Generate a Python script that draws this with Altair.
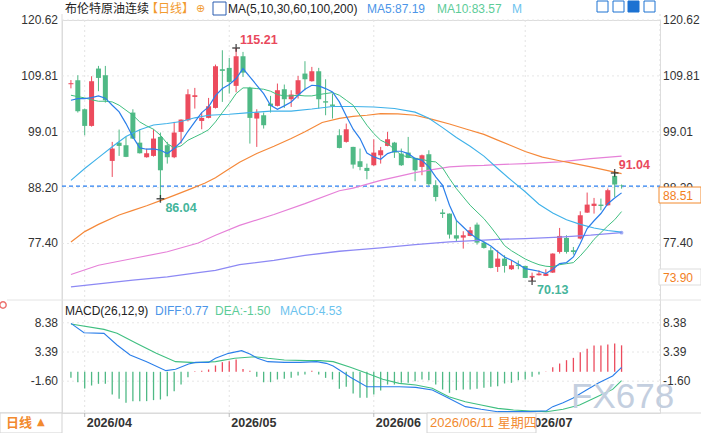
import altair as alt
import pandas as pd

# ---------------- data ----------------
opens = [108.2, 108.97, 103.36, 100.14, 111.23, 109.94, 93.37, 96.9, 96.4, 102.72,
         96.9, 94.08, 94.34, 98.01, 96.4, 94.08, 98.98, 101.23, 105.74, 101.1,
         101.69, 103.62, 111.1, 111.36, 107.88, 113.61, 107.49, 101.56, 102.2, 104.46,
         104.01, 107.23, 105.3, 106.2, 110.26, 108.78, 110.71, 104.91, 104.27, 98.33,
         97.05, 96.08, 93.31, 92.02, 92.53, 94.46, 96.27, 96.91, 94.79, 94.98,
         93.95, 92.21, 94.66, 88.66, 83.4, 83.18, 78.99, 78.54, 78.86, 81.05,
         77.57, 76.09, 72.87, 74.48, 72.42, 73.32, 73.06, 70.8, 71.26, 71.13,
         71.77, 75.77, 78.48, 76.09, 78.35, 83.37, 84.66, 84.92, 84.79, 90.47, 88.6]
highs = [109.0, 109.94, 103.5, 109.75, 111.74, 111.74, 97.05, 99.43, 98.0, 103.36,
         99.43, 95.76, 99.49, 98.85, 97.05, 100.91, 101.4, 107.23, 107.49, 102.72,
         105.55, 112.0, 114.77, 113.29, 115.21, 114.45, 107.7, 103.36, 102.72, 105.94,
         108.33, 108.14, 107.04, 109.81, 112.65, 111.55, 111.36, 109.16, 106.39, 99.49,
         100.59, 96.1, 95.76, 92.85, 97.56, 96.08, 98.98, 97.05, 95.76, 98.01,
         94.0, 94.59, 95.43, 89.63, 84.02, 83.2, 81.91, 79.77, 80.6, 81.44,
         77.83, 76.73, 76.09, 75.12, 74.1, 74.1, 73.1, 71.77, 72.22, 72.42,
         75.5, 80.41, 78.99, 76.73, 83.63, 87.25, 86.21, 86.08, 88.02, 91.04, 88.8]
lows = [107.4, 102.72, 98.33, 100.0, 106.85, 104.65, 90.27, 94.34, 94.1, 97.6,
        94.8, 94.0, 94.2, 86.04, 92.85, 93.9, 96.72, 101.0, 103.49, 99.49,
        101.6, 103.5, 104.78, 106.39, 106.65, 109.62, 96.72, 96.08, 99.62, 102.72,
        103.9, 103.62, 103.81, 105.43, 107.04, 108.7, 103.49, 102.2, 101.56, 95.8,
        96.9, 91.89, 91.56, 89.82, 92.4, 92.85, 96.2, 93.95, 92.4, 93.9,
        89.44, 90.6, 88.53, 85.56, 82.34, 78.35, 77.7, 76.41, 78.8, 77.18,
        76.41, 72.6, 71.9, 71.77, 72.3, 72.42, 70.7, 70.13, 71.2, 71.1,
        71.7, 75.45, 75.45, 75.25, 78.2, 83.3, 83.18, 83.82, 84.7, 86.4, 88.0]
closes = [108.4, 102.98, 100.14, 108.78, 109.42, 105.1, 95.76, 96.27, 94.15, 97.69,
          94.85, 94.85, 97.69, 91.56, 94.08, 98.85, 101.36, 106.26, 106.07, 101.69,
          103.94, 111.68, 110.78, 108.65, 113.61, 110.45, 101.69, 102.72, 100.27, 104.01,
          107.04, 105.3, 106.2, 108.97, 109.16, 110.71, 105.3, 104.65, 104.01, 95.88,
          99.49, 92.66, 92.21, 91.43, 94.98, 95.43, 97.56, 94.98, 92.53, 93.95,
          91.56, 94.46, 88.86, 86.4, 83.1, 79.12, 78.35, 78.99, 79.96, 77.57,
          76.54, 72.67, 74.48, 73.06, 73.19, 73.06, 70.74, 71.13, 71.58, 71.58,
          75.45, 78.86, 75.77, 75.77, 82.86, 84.92, 85.1, 84.66, 87.7, 88.8, 88.51]

ma5 = [105.1, 105.4, 105.4, 105.6, 105.94, 105.5, 104.14, 102.85, 100.59, 98.01,
       95.88, 95.63, 95.7, 95.43, 94.79, 95.76, 97.05, 99.1, 100.91, 102.72,
       103.81, 106.0, 107.36, 108.14, 109.3, 111.23, 109.62, 108.0, 106.39, 104.14,
       103.36, 104.01, 104.78, 106.07, 107.23, 108.0, 107.88, 107.36, 106.72, 104.78,
       102.07, 99.5, 97.69, 94.9, 94.14, 93.69, 94.79, 95.24, 95.24, 94.79,
       93.82, 93.5, 92.21, 90.27, 88.66, 84.79, 81.88, 80.6, 79.32, 78.35,
       77.7, 76.93, 75.8, 74.8, 74.16, 73.4, 72.55, 72.3, 72.03, 71.58,
       72.42, 73.51, 73.71, 74.8, 77.38, 80.3, 81.8, 83.2, 85.1, 86.21, 87.19]
ma10 = [106.07, 105.8, 105.55, 105.2, 104.91, 104.91, 104.78, 104.14, 103.17, 102.2,
        100.91, 100.14, 99.49, 98.33, 96.72, 95.88, 96.27, 97.37, 98.01, 98.66,
        99.4, 100.91, 102.72, 104.46, 106.39, 107.49, 107.49, 107.36, 107.23, 106.85,
        106.2, 105.94, 105.94, 106.07, 105.94, 105.94, 106.2, 106.39, 106.59, 106.07,
        105.1, 104.14, 102.2, 100.27, 98.66, 97.37, 96.72, 95.63, 94.46, 94.14,
        93.82, 93.69, 93.31, 93.18, 92.02, 89.95, 88.02, 86.4, 84.79, 83.5,
        82.21, 80.6, 78.86, 77.0, 76.0, 75.2, 74.4, 73.8, 73.3, 73.0,
        72.9, 73.3, 73.5, 73.7, 75.0, 76.5, 78.2, 79.5, 80.8, 82.0, 83.57]
ma30_i = [0, 2, 4, 6, 8, 10, 12, 14, 16, 18, 20, 23, 26, 29, 32, 35, 38, 41, 44, 47,
          50, 52, 54, 56, 58, 60, 62, 64, 66, 68, 70, 72, 74, 76, 78, 80]
ma30_v = [89.6, 91.9, 94.0, 96.1, 98.1, 99.4, 100.3, 100.6, 101.0, 101.7, 102.2, 102.4,
          102.7, 103.0, 103.0, 103.4, 103.9, 103.9, 103.8, 103.5, 102.8, 101.6, 99.8,
          97.9, 96.2, 94.3, 91.9, 89.6, 87.4, 85.0, 83.3, 82.0, 81.1, 80.4, 79.9, 79.6]
ma60_i = [0, 2, 4, 7, 9, 11, 13, 15, 17.5, 19.5, 21, 22.5, 24.5, 27, 29.5, 32, 34, 36.5,
          39, 41, 43, 45, 47.5, 50, 52.5, 55, 57.5, 60, 62, 64, 66, 68.5, 71, 73, 75.5, 78, 80]
ma60_v = [77.7, 79.7, 81.1, 82.9, 83.8, 84.7, 85.7, 86.7, 88.0, 89.1, 90.1, 91.4, 93.1,
          94.8, 96.2, 97.7, 99.0, 100.8, 101.6, 102.0, 102.2, 102.5, 102.45, 102.2, 101.4,
          100.5, 99.5, 98.5, 97.4, 96.3, 95.2, 94.1, 93.4, 92.9, 92.2, 91.5, 90.9]
ma100_i = [0, 4, 9, 14, 18.5, 21, 24.5, 29.5, 34, 39, 41, 45, 50, 52.5, 55, 57.5, 60,
           62, 66, 71, 75.5, 80]
ma100_v = [71.4, 73.2, 74.5, 75.8, 77.5, 79.0, 80.9, 83.0, 85.1, 87.6, 88.1, 89.6, 91.1,
           91.7, 92.2, 92.4, 92.5, 92.65, 92.85, 93.2, 93.8, 94.3]
ma200_i = [0, 4, 9, 14, 18.5, 21, 24.5, 29.5, 34, 39, 41, 45, 50, 55, 60, 62, 66, 71, 75.5, 80]
ma200_v = [69.0, 69.6, 70.3, 70.95, 71.75, 72.2, 73.3, 74.15, 75.1, 75.9, 76.1, 76.55,
           77.2, 77.7, 78.05, 78.2, 78.35, 78.65, 79.0, 79.5]

macd_hist = [-1.03, -1.77, -2.85, -2.34, -2.05, -2.05, -3.87, -4.62, -5.3, -5.01,
             -5.01, -5.01, -4.84, -4.73, -4.16, -3.3, -2.17, -0.91, 0.1, 0.2,
             0.4, 1.08, 1.65, 1.82, 2.1, 0.5, 0.2, -0.85, -1.77, -1.77,
             -1.31, -1.2, -1.03, -0.63, -0.46, 0.2, -0.46, -1.03, -1.31, -2.9,
             -2.56, -3.7, -4.44, -4.44, -3.87, -3.19, -2.17, -2.17, -1.88, -1.88,
             -1.6, -1.31, -1.42, -2.17, -3.02, -3.59, -3.13, -3.02, -3.02, -2.9,
             -2.74, -2.56, -2.45, -1.99, -1.88, -1.42, -1.31, -0.85, -0.46, 0.05,
             0.8, 1.42, 1.99, 2.39, 3.36, 3.93, 4.5, 4.5, 4.67, 4.84, 4.53]
diff_i = [0, 1.9, 4.8, 6.7, 8.6, 11, 13.8, 15.2, 17.1, 18.1, 20, 21, 22.9, 24.8, 26, 27.1,
          28.6, 31, 33.3, 35.7, 37.1, 38.1, 39, 40.6, 43, 45.3, 47.7, 50.1, 52.5, 54.9,
          57.3, 59.6, 62, 64.3, 66.8, 69.1, 70, 71.5, 72.9, 74.9, 76.7, 78.7, 80]
diff_v = [8.29, 6.69, 6.58, 4.59, 2.88, 1.74, 0.2, 0.43, 1.34, 1.62, 1.62, 2.31, 3.16,
          3.62, 3.05, 2.31, 1.74, 1.62, 1.62, 1.74, 1.45, 0.99, 0.31, -0.94, -2.54, -2.54,
          -2.54, -2.65, -3.11, -4.53, -5.95, -6.41, -6.81, -6.81, -6.81, -6.64, -5.95,
          -5.27, -4.53, -3.11, -1.85, -0.71, 0.77]
dea_i = [0, 4.8, 6.7, 9.5, 12.4, 15.2, 18.1, 21, 23.8, 26.7, 28.6, 31, 34.3, 36.2, 38.1,
         40.6, 43, 45.3, 47.7, 50.1, 52.5, 54.9, 57.3, 59.6, 62, 64.3, 66.8, 69.1, 71.5,
         73.9, 76.3, 78.7, 80]
dea_v = [8.18, 7.26, 6.58, 4.87, 3.16, 1.74, 1.57, 1.74, 2.31, 2.59, 2.31, 2.02, 1.91,
         1.91, 1.74, 0.8, -0.26, -1.28, -1.97, -2.25, -2.82, -4.25, -5.1, -5.67, -6.24,
         -6.52, -6.69, -6.81, -6.41, -5.67, -4.36, -3.0, -1.5]

price_ticks = [120.62, 109.81, 99.01, 88.20, 77.40]
price_labels = ["120.62", "109.81", "99.01", "88.20", "77.40"]
macd_ticks = [8.38, 3.39, -1.60]
macd_labels = ["8.38", "3.39", "-1.60"]
month_idx = [2, 23, 44, 66]
month_labels = ["2026/04", "2026/05", "2026/06", "2026/07"]
last_price = 88.51
hi_lo_idx = [24, 79, 13, 67]
hi_lo_val = [115.21, 91.04, 86.04, 70.13]
hi_lo_txt = ["115.21", "91.04", "86.04", "70.13"]

# ---------------- layout ----------------
W, H = 598, 393
FONT = "Liberation Sans, Noto Sans CJK SC"
CJK = "Noto Sans CJK SC"
RED, GREEN = "#ec4b5d", "#4fb985"

xs = alt.Scale(domain=[-4 / 7, (W - 4) / 7], range=[0, W], nice=False, zero=False)
ps = alt.Scale(domain=[120.62 - 279 / 5.171, 120.62], range=[279, 0], nice=False, zero=False)
ms = alt.Scale(domain=[3.39 - 61 / 5.85, 3.39 + 52 / 5.85], range=[H, 280], nice=False, zero=False)


def X(f="i"):
    return alt.X(f"{f}:Q", scale=xs, axis=None)


def PY(f):
    return alt.Y(f"{f}:Q", scale=ps, axis=None)


def MY(f):
    return alt.Y(f"{f}:Q", scale=ms, axis=None)


one = pd.DataFrame({"a": [0]})


def ptext(txt, x, y, color="#333", size=12, align="left", weight="normal", font=FONT):
    return alt.Chart(pd.DataFrame({"t": [txt]})).mark_text(
        align=align, baseline="middle", fontSize=size, fontWeight=weight, color=color, font=font
    ).encode(x=alt.value(x), y=alt.value(y), text="t:N")


def prect(x, x2, y, y2, fill="white", stroke="#d6d6d6", sw=1):
    return alt.Chart(one).mark_rect(fill=fill, stroke=stroke, strokeWidth=sw).encode(
        x=alt.value(x), x2=alt.value(x2), y=alt.value(y), y2=alt.value(y2))


def prule(x, x2, y, y2, color="#e2e2e2", dash=None, sw=1):
    kw = dict(color=color, strokeWidth=sw)
    if dash:
        kw["strokeDash"] = dash
    return alt.Chart(one).mark_rule(**kw).encode(
        x=alt.value(x), x2=alt.value(x2), y=alt.value(y), y2=alt.value(y2))


layers = []

# grid lines
pt = pd.DataFrame({"v": price_ticks, "t": price_labels})
mt = pd.DataFrame({"v": macd_ticks, "t": macd_labels})
mo = pd.DataFrame({"i": month_idx, "t": month_labels})
layers.append(alt.Chart(pt).mark_rule(color="#e6e6e6", strokeDash=[2, 3]).encode(
    y=PY("v"), x=alt.value(0), x2=alt.value(W)))
layers.append(alt.Chart(mt).mark_rule(color="#e6e6e6", strokeDash=[2, 3]).encode(
    y=MY("v"), x=alt.value(0), x2=alt.value(W)))
layers.append(alt.Chart(mo).mark_rule(color="#e3e3e3", strokeDash=[2, 3]).encode(
    x=X("i"), y=alt.value(0), y2=alt.value(H)))
# frame
layers.append(prule(0, 0, -6, H, color="#dcdcdc"))
layers.append(prule(W, W, -6, H, color="#dcdcdc", dash=[2, 3]))
layers.append(prule(-55, 639, 280, 280, color="#e4e4e4"))
layers.append(prule(-62, 639, H, H, color="#d9d9d9"))
layers.append(alt.Chart(mo).mark_rule(color="#bbbbbb").encode(
    x=X("i"), y=alt.value(H), y2=alt.value(H + 4)))

# current price line
layers.append(alt.Chart(pd.DataFrame({"v": [last_price]})).mark_rule(
    color="#2a7ff0", strokeDash=[4, 3], strokeWidth=1.2).encode(
    y=PY("v"), x=alt.value(0), x2=alt.value(W)))

# candles
cd = pd.DataFrame({"i": list(range(len(opens))), "o": opens, "h": highs, "l": lows, "c": closes})
up = cd[cd["c"] >= cd["o"]]
dn = cd[cd["c"] < cd["o"]]
for df, col in ((up, RED), (dn, GREEN)):
    layers.append(alt.Chart(df).mark_rule(color=col, strokeWidth=1).encode(
        x=X("i"), y=PY("l"), y2="h:Q"))
    layers.append(alt.Chart(df).mark_bar(color=col, size=5).encode(
        x=X("i"), y=PY("o"), y2="c:Q"))

# moving averages
def ma_line(ii, vv, color, w=1.0):
    return alt.Chart(pd.DataFrame({"i": ii, "v": vv})).mark_line(
        color=color, strokeWidth=w).encode(x=X("i"), y=PY("v"))

idx = list(range(len(opens)))
layers.append(ma_line(ma200_i, ma200_v, "#8d89f4", 1.3))
layers.append(ma_line(ma100_i, ma100_v, "#e681d8", 1.2))
layers.append(ma_line(ma60_i, ma60_v, "#f5893a", 1.2))
layers.append(ma_line(ma30_i, ma30_v, "#3eb1e9", 1.1))
layers.append(ma_line(idx, ma10, "#3fbf80", 1.0))
layers.append(ma_line(idx, ma5, "#2b7fea", 1.2))
layers.append(alt.Chart(pd.DataFrame({"i": [ma200_i[-1]], "v": [ma200_v[-1]]})).mark_point(
    filled=True, size=14, color="#7f8cf0").encode(x=X("i"), y=PY("v")))

# high / low markers
hl = pd.DataFrame({"i": hi_lo_idx, "v": hi_lo_val, "t": hi_lo_txt})
layers.append(alt.Chart(hl).mark_point(shape="M-1,0H1M0,-1V1", filled=False, color="#111",
                                       strokeWidth=1.4, size=60).encode(x=X("i"), y=PY("v")))
layers.append(alt.Chart(hl.iloc[:2]).mark_text(align="left", baseline="middle", dx=4, dy=-8,
                                               fontSize=12.5, fontWeight="bold", color="#e9495c",
                                               font=FONT).encode(x=X("i"), y=PY("v"), text="t:N"))
layers.append(alt.Chart(hl.iloc[2:]).mark_text(align="left", baseline="middle", dx=5, dy=9,
                                               fontSize=12.5, fontWeight="bold", color="#45b59b",
                                               font=FONT).encode(x=X("i"), y=PY("v"), text="t:N"))

# MACD
mh = pd.DataFrame({"i": idx, "h": macd_hist, "z": [0.0] * len(idx)})
layers.append(alt.Chart(mh[mh["h"] >= 0]).mark_rule(color=RED, strokeWidth=1.3).encode(
    x=X("i"), y=MY("z"), y2="h:Q"))
layers.append(alt.Chart(mh[mh["h"] < 0]).mark_rule(color=GREEN, strokeWidth=1.3).encode(
    x=X("i"), y=MY("z"), y2="h:Q"))
layers.append(alt.Chart(pd.DataFrame({"i": dea_i, "v": dea_v})).mark_line(
    color="#3fbf80", strokeWidth=1.1).encode(x=X("i"), y=MY("v")))
layers.append(alt.Chart(pd.DataFrame({"i": diff_i, "v": diff_v})).mark_line(
    color="#2b7fea", strokeWidth=1.1).encode(x=X("i"), y=MY("v")))

# axis labels (both sides)
for df, sc in ((pt, PY), (mt, MY)):
    layers.append(alt.Chart(df).mark_text(align="right", baseline="middle", fontSize=12,
                                          color="#333", font=FONT).encode(
        y=sc("v"), x=alt.value(-4), text="t:N"))
    layers.append(alt.Chart(df).mark_text(align="left", baseline="middle", fontSize=12,
                                          color="#333", font=FONT).encode(
        y=sc("v"), x=alt.value(601), text="t:N"))

# month labels
layers.append(alt.Chart(mo).mark_text(align="left", baseline="middle", dx=2, fontSize=12.5,
                                      fontWeight="bold", color="#333", font=FONT).encode(
    x=X("i"), y=alt.value(H + 9.5), text="t:N"))

# right price boxes
layers.append(prect(597, 639, 167, 183, stroke="#f28a2e"))
layers.append(ptext("88.51", 601, 175.5, color="#f2801e"))
layers.append(prect(597, 639, 249, 265, stroke="#dddddd"))
layers.append(ptext("73.90", 601, 257.5, color="#f2801e"))

# crosshair date box and bottom-left box
layers.append(prect(365, 474, H, H + 20, stroke="#d3d3d3"))
layers.append(ptext("2026/06/11 星期四", 368, H + 10, color="#f28a2e", size=13))
layers.append(prect(-62, 0, H, H + 20, stroke="#d3d3d3"))
layers.append(ptext("日线", -56, H + 10, color="#f28a2e", size=13, weight="bold", font=CJK))
layers.append(ptext("▲", -25, H + 9, color="#f28a2e", size=10, font="DejaVu Sans"))

# watermark
layers.append(ptext("FX678", 509, 377, color="#c4cfdf", size=35, font="Liberation Sans"))

# header
layers.append(ptext("布伦特原油连续", 3, -11, color="#222", size=12, font=CJK))
layers.append(ptext("【日线】", 84, -11, color="#f29b30", size=12, font=CJK))
layers.append(ptext("⊕", 134, -11, color="#f29b30", size=11, font="DejaVu Sans"))
layers.append(prect(151, 164, -18, -5, fill="white", stroke="#2a5db0"))
layers.append(ptext("MA(5,10,30,60,100,200)", 166, -11, color="#222"))
layers.append(ptext("MA5:87.19", 305, -11, color="#4b95e8"))
layers.append(ptext("MA10:83.57", 375, -11, color="#5ccc98"))
layers.append(ptext("M", 450, -11, color="#6cc3ee"))
for k, x0 in enumerate([535, 551, 566, 582]):
    layers.append(prect(x0, x0 + 11, -19, -8, fill="#1d72d2" if k == 2 else "white",
                        stroke="#1d72d2"))

# MACD header
layers.append(ptext("MACD(26,12,9)", 3, 291, color="#222"))
layers.append(ptext("DIFF:0.77", 93, 291, color="#4b95e8"))
layers.append(ptext("DEA:-1.50", 153, 291, color="#5ccc98"))
layers.append(ptext("MACD:4.53", 218, 291, color="#6cc3ee"))
layers.append(alt.Chart(one).mark_point(shape="circle", filled=False, color="#e53935",
                                        strokeWidth=1.5, size=40).encode(
    x=alt.value(-59), y=alt.value(285)))

chart = alt.layer(*layers).resolve_scale(y="independent").properties(
    width=W, height=H,
    padding={"left": 62, "top": 20, "right": 41, "bottom": 20},
    autosize=alt.AutoSizeParams(type="none"),
).configure_view(stroke=None).configure(font="Liberation Sans")

chart.save("out.html", embed_options={"renderer": "svg", "actions": False})
